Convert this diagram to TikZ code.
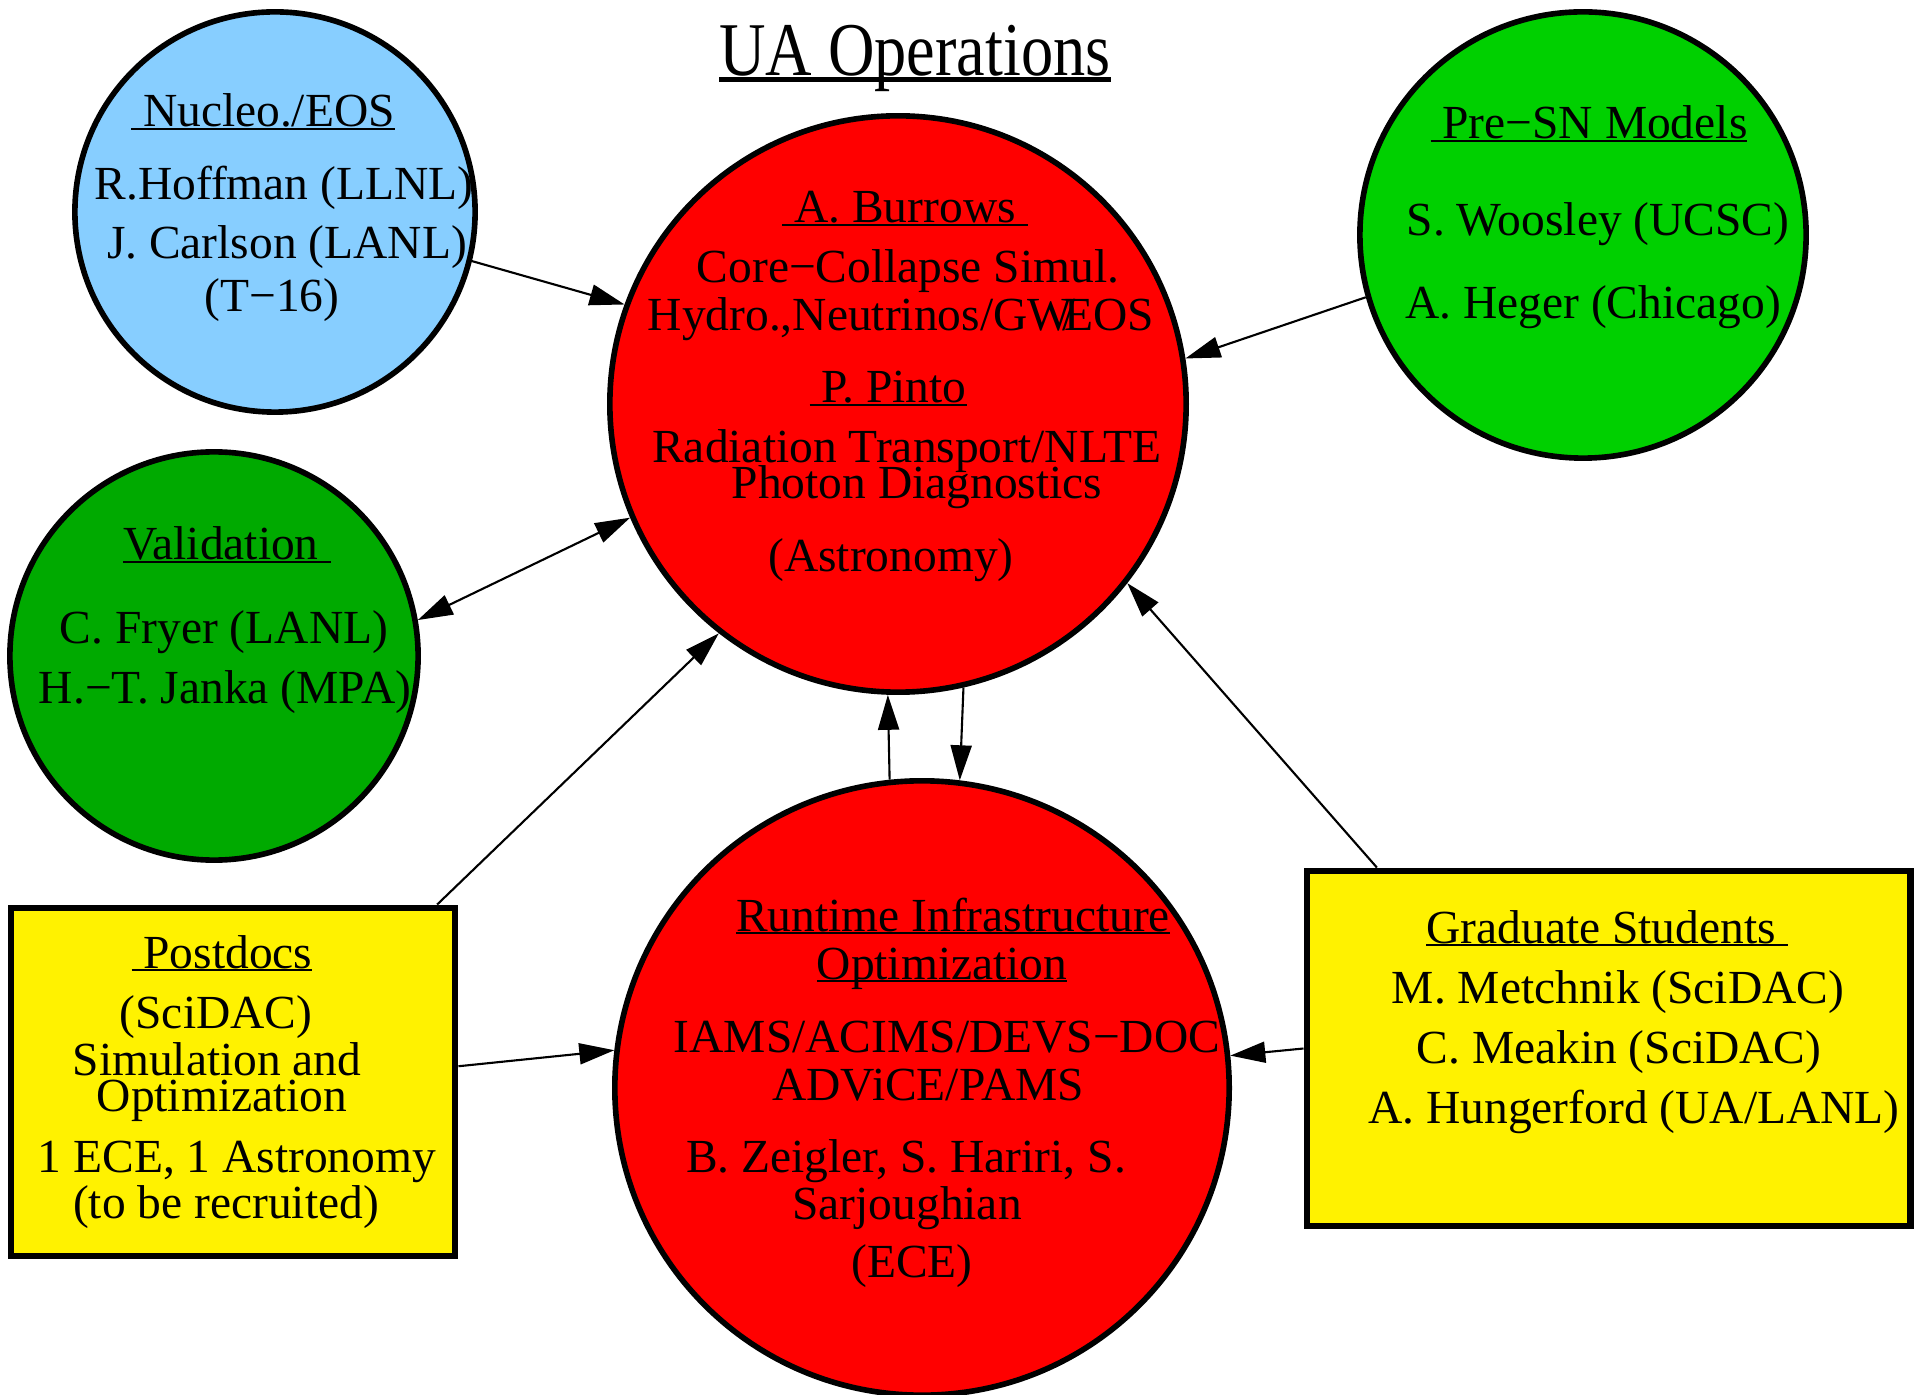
\documentclass[tikz,border=0pt]{standalone}
\usepackage{fontspec}
\usepackage{graphicx}
\setmainfont{Liberation Serif}
\usetikzlibrary{arrows.meta}
\definecolor{nucblue}{RGB}{135,206,255}
\definecolor{valgreen}{RGB}{0,170,0}
\definecolor{snmgreen}{RGB}{0,208,0}
% underline sitting just below the baseline
\newcommand\ulbox[2][0.55pt]{\setbox0\hbox{#2}\rlap{\rule[\dimexpr-0.3pt-#1\relax]{\wd0}{#1}}\box0}
\tikzset{
  >={Triangle[length=0.35cm,width=0.21cm]},
  blob/.style={circle,draw,line width=1.6pt,inner sep=0},
  board/.style={rectangle,draw,line width=1.9pt,fill=yellow,inner sep=0},
  lbl/.style={anchor=base,inner sep=0,font=\fontsize{13.5}{16}\selectfont},
  link/.style={->,line width=0.6pt},
}
\begin{document}
\begin{tikzpicture}[x=0.01cm,y=-0.01cm]
\useasboundingbox (0,0) rectangle (1916,1395);
% groups
\node[blob,fill=nucblue,minimum size=4.00cm] (nucleo) at (275,212) {};
\node[blob,fill=valgreen,minimum size=4.08cm] (valid) at (214,656) {};
\node[blob,fill=red,minimum size=5.76cm] (burrows) at (898,404) {};
\node[blob,fill=snmgreen,minimum size=4.46cm] (presn) at (1583,235) {};
\node[blob,fill=red,minimum size=6.14cm] (runtime) at (922,1088) {};
\node[board,minimum width=4.44cm,minimum height=3.48cm] (postdocs) at (233,1082) {};
\node[board,minimum width=6.03cm,minimum height=3.55cm] (grads) at (1608.5,1048.5) {};
% links
\draw[link] (nucleo.-14) -- (burrows.160);
\draw[link,<->] (valid.10) -- (burrows.-157);
\draw[link] (presn.-164) -- (burrows.9.4);
\draw[link] (postdocs.41.4) -- (burrows.-128);
\draw[link] (grads.142.1) -- (burrows.-38.5);
\draw[link] (runtime.96.5) -- (burrows.-92.2);
\draw[link] (burrows.-77.9) -- (runtime.83.1);
\draw[link] (postdocs.4.9) -- (runtime.173.8);
\draw[link] (grads.180.6) -- (runtime.6.4);
% title
\node[lbl,font=\fontsize{18.3}{22}\selectfont] (title) at (915,76) {\ulbox[1.4pt]{\scalebox{1}[1.18]{UA Operations}}};
% nucleo
\node[lbl] (nuchead) at (263,127) {\ulbox{\ Nucleo./EOS}};
\node[lbl] (nuc1) at (284,200) {R.Hoffman (LLNL)};
\node[lbl] (nuc2) at (287,259) {J. Carlson (LANL)};
\node[lbl] (nuc3) at (272,312) {(T−16)};
% validation
\node[lbl] (valhead) at (227,560) {\ulbox{Validation\ }};
\node[lbl] (val1) at (224,643) {C. Fryer (LANL)};
\node[lbl] (val2) at (225,703) {H.−T. Janka (MPA)};
% burrows / pinto
\node[lbl] (burhead) at (905,223) {\ulbox{\ A. Burrows\ }};
\node[lbl] (bur1) at (908,283) {Core−Collapse Simul.};
\node[lbl] (bur2) at (901,331) {Hydro.,Neutrinos/GW\kern-0.2em/\kern-0.24em EOS};
\node[lbl] (pinhead) at (888,403) {\ulbox{\ P. Pinto}};
\node[lbl] (pin1) at (907,463) {Radiation Transport/NLTE};
\node[lbl] (pin2) at (917,499) {Photon Diagnostics};
\node[lbl] (pin3) at (891,572) {(Astronomy)};
% pre-sn
\node[lbl] (snhead) at (1589,139) {\ulbox{\ Pre−SN Models}};
\node[lbl] (sn1) at (1598,236) {S. Woosley (UCSC)};
\node[lbl] (sn2) at (1593,319) {A. Heger (Chicago)};
% runtime
\node[lbl] (runhead1) at (953,931) {\ulbox{Runtime Infrastructure}};
\node[lbl] (runhead2) at (942,979) {\ulbox{Optimization}};
\node[lbl] (run1) at (947,1052) {IAMS/ACIMS/DEVS−DOC};
\node[lbl] (run2) at (928,1100) {ADViCE/PAMS};
\node[lbl] (run3) at (906,1172) {B. Zeigler, S. Hariri, S.};
\node[lbl] (run4) at (907,1219) {Sarjoughian};
\node[lbl] (run5) at (912,1277) {(ECE)};
% postdocs
\node[lbl] (pdhead) at (222,968) {\ulbox{\ Postdocs}};
\node[lbl] (pd1) at (216,1028) {(SciDAC)};
\node[lbl] (pd2) at (217,1075) {Simulation and};
\node[lbl] (pd3) at (222,1111) {Optimization};
\node[lbl] (pd4) at (237,1172) {1 ECE, 1 Astronomy};
\node[lbl] (pd5) at (226,1218) {(to be recruited)};
% graduate students
\node[lbl] (gshead) at (1607,943) {\ulbox{Graduate Students\ }};
\node[lbl] (gs1) at (1618,1003) {M. Metchnik (SciDAC)};
\node[lbl] (gs2) at (1619,1063) {C. Meakin (SciDAC)};
\node[lbl] (gs3) at (1634,1123) {A. Hungerford (UA/LANL)};
\end{tikzpicture}
\end{document}
